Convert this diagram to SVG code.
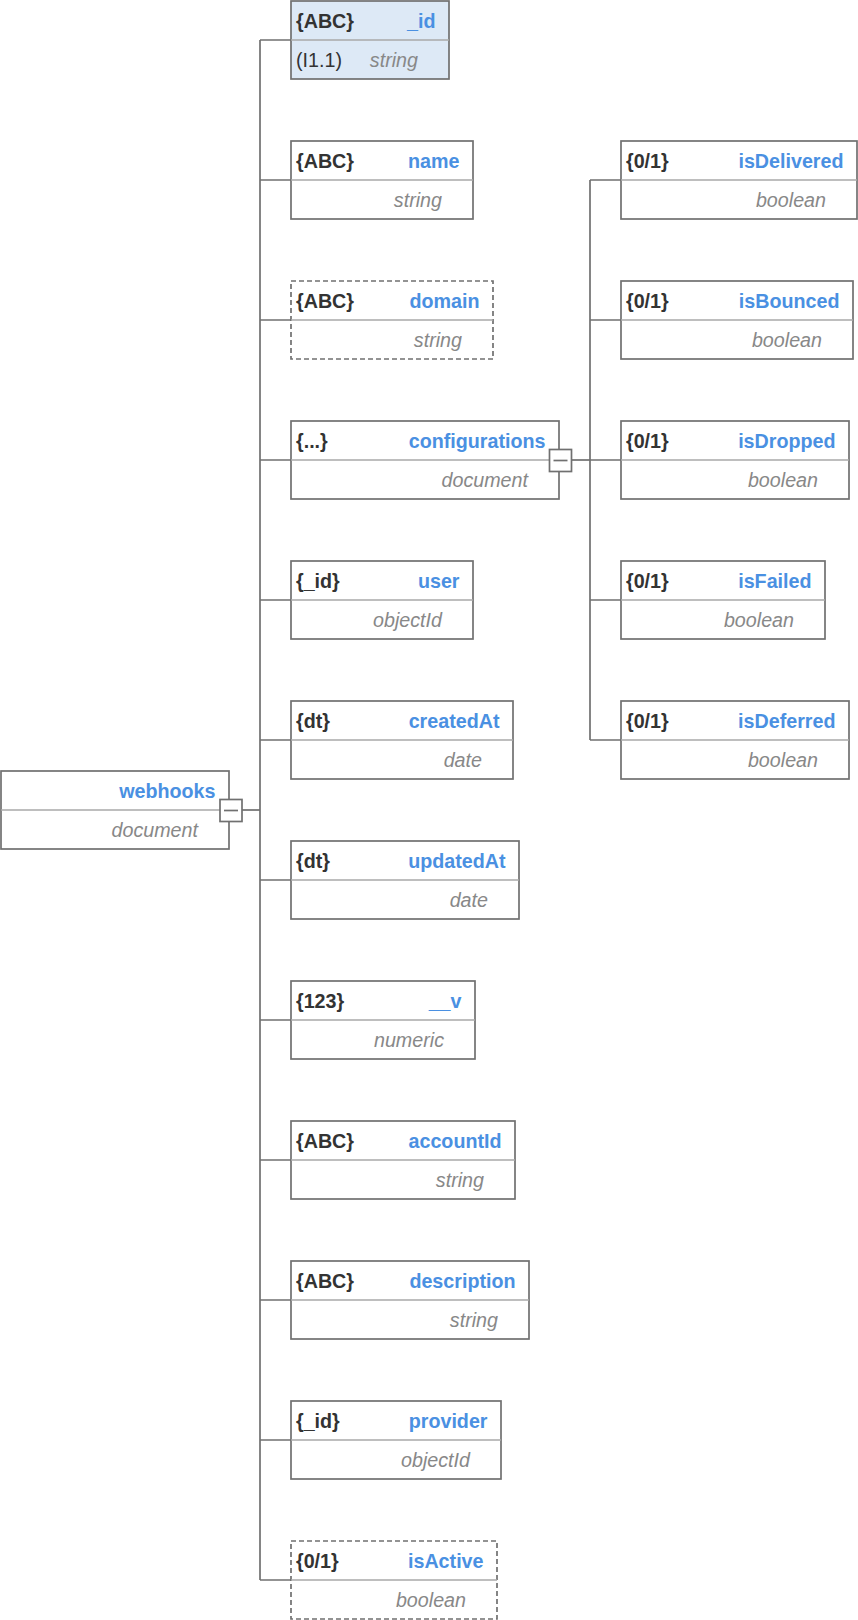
<svg xmlns="http://www.w3.org/2000/svg" width="858" height="1620" viewBox="0 0 858 1620">
<style>
text{font-family:"Liberation Sans",Arial,sans-serif;font-size:19.7px}
.box{fill:#fff;stroke:#707070;stroke-width:1.7}
.pk{fill:#dde9f6}
.dash{stroke-dasharray:5 3}
.div{stroke:#a8a8a8;stroke-width:1.5}
.lt{fill:#333;font-weight:bold}
.ix{fill:#333}
.nm{fill:#4a90e2;font-weight:bold;text-anchor:end}
.ty{fill:#888;font-style:italic;text-anchor:end}
.ln{stroke:#707070;stroke-width:1.7;fill:none}
.btn{fill:#fff;stroke:#707070;stroke-width:1.7}
</style>
<g id="connectors">
<path class="ln" d="M260 40V1580"/>
<path class="ln" d="M242 810H260"/>
<path class="ln" d="M260 40H291M260 180H291M260 320H291M260 460H291M260 600H291M260 740H291M260 880H291M260 1020H291M260 1160H291M260 1300H291M260 1440H291M260 1580H291"/>
<path class="ln" d="M590 180V740"/>
<path class="ln" d="M572 460H590"/>
<path class="ln" d="M590 180H621M590 320H621M590 460H621M590 600H621M590 740H621"/>
</g>
<g id="node-webhooks">
<rect class="box" x="1" y="771" width="228" height="78"/>
<line class="div" x1="1" y1="810" x2="229" y2="810"/>
<text class="nm" x="215.5" y="798">webhooks</text>
<text class="ty" x="198" y="837">document</text>
<rect class="btn" x="220" y="799.5" width="22" height="22"/>
<line class="ln" x1="224" y1="810.5" x2="238" y2="810.5"/>
</g>
<g id="node-_id">
<rect class="box pk" x="291" y="1" width="158" height="78"/>
<line class="div" x1="291" y1="40" x2="449" y2="40"/>
<text class="lt" x="296" y="28">{ABC}</text>
<text class="nm" x="435.5" y="28">_id</text>
<text class="ix" x="296" y="67">(I1.1)</text>
<text class="ty" x="418" y="67">string</text>
</g>
<g id="node-name">
<rect class="box" x="291" y="141" width="182" height="78"/>
<line class="div" x1="291" y1="180" x2="473" y2="180"/>
<text class="lt" x="296" y="168">{ABC}</text>
<text class="nm" x="459.5" y="168">name</text>
<text class="ty" x="442" y="207">string</text>
</g>
<g id="node-domain">
<rect class="box dash" x="291" y="281" width="202" height="78"/>
<line class="div" x1="291" y1="320" x2="493" y2="320"/>
<text class="lt" x="296" y="308">{ABC}</text>
<text class="nm" x="479.5" y="308">domain</text>
<text class="ty" x="462" y="347">string</text>
</g>
<g id="node-configurations">
<rect class="box" x="291" y="421" width="268" height="78"/>
<line class="div" x1="291" y1="460" x2="559" y2="460"/>
<text class="lt" x="296" y="448">{...}</text>
<text class="nm" x="545.5" y="448">configurations</text>
<text class="ty" x="528" y="487">document</text>
<rect class="btn" x="549.5" y="449.5" width="22" height="22"/>
<line class="ln" x1="553.5" y1="460.5" x2="567.5" y2="460.5"/>
</g>
<g id="node-user">
<rect class="box" x="291" y="561" width="182" height="78"/>
<line class="div" x1="291" y1="600" x2="473" y2="600"/>
<text class="lt" x="296" y="588">{_id}</text>
<text class="nm" x="459.5" y="588">user</text>
<text class="ty" x="442" y="627">objectId</text>
</g>
<g id="node-createdAt">
<rect class="box" x="291" y="701" width="222" height="78"/>
<line class="div" x1="291" y1="740" x2="513" y2="740"/>
<text class="lt" x="296" y="728">{dt}</text>
<text class="nm" x="499.5" y="728">createdAt</text>
<text class="ty" x="482" y="767">date</text>
</g>
<g id="node-updatedAt">
<rect class="box" x="291" y="841" width="228" height="78"/>
<line class="div" x1="291" y1="880" x2="519" y2="880"/>
<text class="lt" x="296" y="868">{dt}</text>
<text class="nm" x="505.5" y="868">updatedAt</text>
<text class="ty" x="488" y="907">date</text>
</g>
<g id="node-__v">
<rect class="box" x="291" y="981" width="184" height="78"/>
<line class="div" x1="291" y1="1020" x2="475" y2="1020"/>
<text class="lt" x="296" y="1008">{123}</text>
<text class="nm" x="461.5" y="1008">__v</text>
<text class="ty" x="444" y="1047">numeric</text>
</g>
<g id="node-accountId">
<rect class="box" x="291" y="1121" width="224" height="78"/>
<line class="div" x1="291" y1="1160" x2="515" y2="1160"/>
<text class="lt" x="296" y="1148">{ABC}</text>
<text class="nm" x="501.5" y="1148">accountId</text>
<text class="ty" x="484" y="1187">string</text>
</g>
<g id="node-description">
<rect class="box" x="291" y="1261" width="238" height="78"/>
<line class="div" x1="291" y1="1300" x2="529" y2="1300"/>
<text class="lt" x="296" y="1288">{ABC}</text>
<text class="nm" x="515.5" y="1288">description</text>
<text class="ty" x="498" y="1327">string</text>
</g>
<g id="node-provider">
<rect class="box" x="291" y="1401" width="210" height="78"/>
<line class="div" x1="291" y1="1440" x2="501" y2="1440"/>
<text class="lt" x="296" y="1428">{_id}</text>
<text class="nm" x="487.5" y="1428">provider</text>
<text class="ty" x="470" y="1467">objectId</text>
</g>
<g id="node-isActive">
<rect class="box dash" x="291" y="1541" width="206" height="78"/>
<line class="div" x1="291" y1="1580" x2="497" y2="1580"/>
<text class="lt" x="296" y="1568">{0/1}</text>
<text class="nm" x="483.5" y="1568">isActive</text>
<text class="ty" x="466" y="1607">boolean</text>
</g>
<g id="node-isDelivered">
<rect class="box" x="621" y="141" width="236" height="78"/>
<line class="div" x1="621" y1="180" x2="857" y2="180"/>
<text class="lt" x="626" y="168">{0/1}</text>
<text class="nm" x="843.5" y="168">isDelivered</text>
<text class="ty" x="826" y="207">boolean</text>
</g>
<g id="node-isBounced">
<rect class="box" x="621" y="281" width="232" height="78"/>
<line class="div" x1="621" y1="320" x2="853" y2="320"/>
<text class="lt" x="626" y="308">{0/1}</text>
<text class="nm" x="839.5" y="308">isBounced</text>
<text class="ty" x="822" y="347">boolean</text>
</g>
<g id="node-isDropped">
<rect class="box" x="621" y="421" width="228" height="78"/>
<line class="div" x1="621" y1="460" x2="849" y2="460"/>
<text class="lt" x="626" y="448">{0/1}</text>
<text class="nm" x="835.5" y="448">isDropped</text>
<text class="ty" x="818" y="487">boolean</text>
</g>
<g id="node-isFailed">
<rect class="box" x="621" y="561" width="204" height="78"/>
<line class="div" x1="621" y1="600" x2="825" y2="600"/>
<text class="lt" x="626" y="588">{0/1}</text>
<text class="nm" x="811.5" y="588">isFailed</text>
<text class="ty" x="794" y="627">boolean</text>
</g>
<g id="node-isDeferred">
<rect class="box" x="621" y="701" width="228" height="78"/>
<line class="div" x1="621" y1="740" x2="849" y2="740"/>
<text class="lt" x="626" y="728">{0/1}</text>
<text class="nm" x="835.5" y="728">isDeferred</text>
<text class="ty" x="818" y="767">boolean</text>
</g>
</svg>
